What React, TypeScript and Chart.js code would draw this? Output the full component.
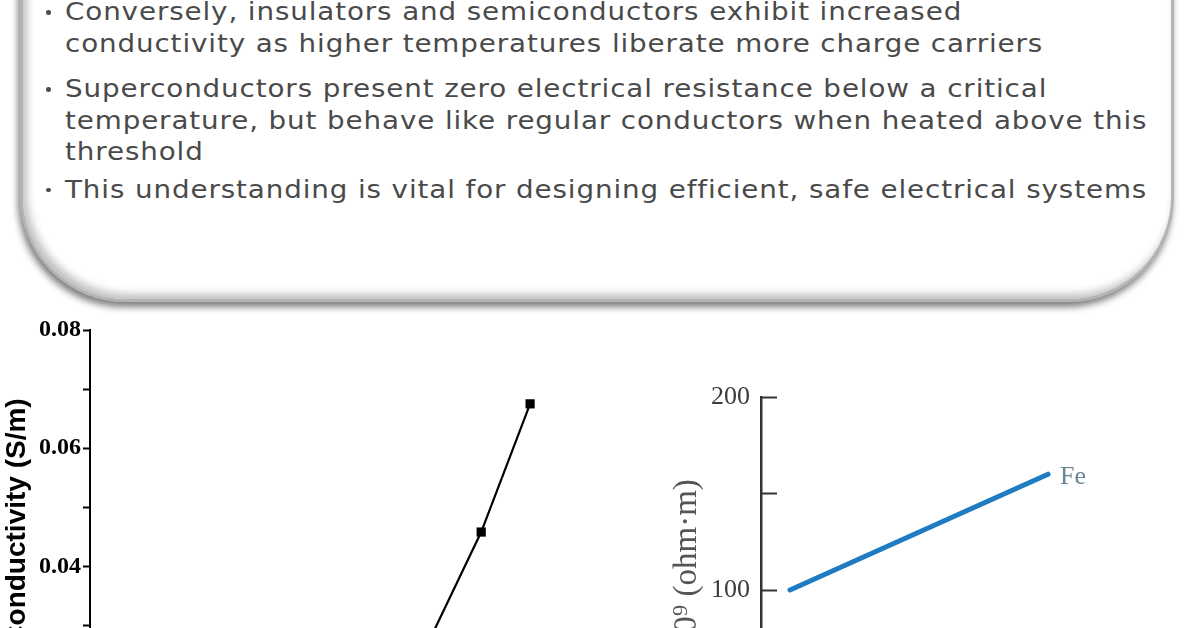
import React, { useEffect, useRef } from "react";
import { Chart, registerables } from "chart.js";

Chart.register(...registerables);

// ---------- text panel ----------
const bulletPoints: string[][] = [
  [
    "Conversely, insulators and semiconductors exhibit increased",
    "conductivity as higher temperatures liberate more charge carriers",
  ],
  [
    "Superconductors present zero electrical resistance below a critical",
    "temperature, but behave like regular conductors when heated above this",
    "threshold",
  ],
  ["This understanding is vital for designing efficient, safe electrical systems"],
];

// ---------- left chart: conductivity vs temperature ----------
const condTemperatures = [350, 360, 370];
const condValues = [0.0285, 0.0458, 0.0675];
const condYTitle = "Conductivity (S/m)";
const condXTitle = "Temperature (K)";

// ---------- right chart: resistivity of Fe ----------
const feTemperatures = [0, 200];
const feResistivity = [100, 160];
const feSeriesName = "Fe";
const feYTitle = "ρ × 10⁹ (ohm·m)";
const feXTitle = "Temperature (°C)";

const TEXT_FONT = '"DejaVu Sans", sans-serif';

function ConductivityChart() {
  const ref = useRef<HTMLCanvasElement | null>(null);
  useEffect(() => {
    if (!ref.current) return;
    const chart = new Chart(ref.current, {
      type: "line",
      data: {
        datasets: [
          {
            data: condTemperatures.map((t, i) => ({ x: t, y: condValues[i] })),
            borderColor: "#000",
            borderWidth: 2.2,
            pointStyle: "rect",
            pointRadius: 6.5,
            pointBackgroundColor: "#000",
            pointBorderWidth: 0,
            tension: 0,
          },
        ],
      },
      options: {
        animation: false,
        responsive: false,
        maintainAspectRatio: false,
        layout: { padding: { top: 30, right: 21, left: 0, bottom: 0 } },
        plugins: { legend: { display: false }, tooltip: { enabled: false } },
        scales: {
          x: {
            type: "linear",
            min: 280,
            max: 380,
            grid: { display: false },
            border: { color: "#000", width: 2 },
            ticks: { font: { family: "Liberation Serif", weight: "bold", size: 16 }, color: "#000" },
            title: { display: true, text: condXTitle, font: { family: "Liberation Sans", weight: "bold", size: 18 }, color: "#000" },
            afterFit: (s: any) => {
              s.height = 60;
            },
          },
          y: {
            min: 0.015,
            max: 0.08,
            ticks: {
              stepSize: 0.01,
              padding: 2,
              color: "#000",
              font: { family: "Liberation Serif", weight: "bold", size: 24 },
              callback: (v: any) => {
                const n = Math.round(v * 100);
                if (Math.abs(v * 100 - n) > 1e-6) return "";
                return n % 2 === 0 ? Number(v).toFixed(2) : "";
              },
            },
            grid: { drawOnChartArea: false, tickLength: 7, tickColor: "#000", tickWidth: 2 },
            border: { color: "#000", width: 2 },
            title: {
              display: true,
              text: condYTitle,
              color: "#000",
              font: { family: "Liberation Sans", weight: "bold", size: 28 },
              padding: { top: 0, bottom: 0 },
            },
            afterFit: (s: any) => {
              s.width = 90;
            },
          },
        },
      },
    } as any);
    return () => chart.destroy();
  }, []);
  return (
    <canvas
      ref={ref}
      width={600}
      height={474}
      style={{ position: "absolute", left: 0, top: 300, width: 600, height: 474 }}
    />
  );
}

const feLabelPlugin = {
  id: "feLabel",
  afterDatasetsDraw(chart: any) {
    const meta = chart.getDatasetMeta(0);
    const last = meta.data[meta.data.length - 1];
    if (!last) return;
    const ctx = chart.ctx;
    ctx.save();
    ctx.font = '26px "Liberation Serif"';
    ctx.fillStyle = "#6c8494";
    ctx.textBaseline = "middle";
    ctx.textAlign = "left";
    ctx.fillText(feSeriesName, last.x + 12, last.y + 3);
    ctx.restore();
  },
};

function ResistivityChart() {
  const ref = useRef<HTMLCanvasElement | null>(null);
  useEffect(() => {
    if (!ref.current) return;
    const chart = new Chart(ref.current, {
      type: "line",
      data: {
        datasets: [
          {
            label: feSeriesName,
            data: feTemperatures.map((t, i) => ({ x: t, y: feResistivity[i] })),
            borderColor: "#1f7cc2",
            borderWidth: 5,
            borderCapStyle: "round",
            pointRadius: 0,
            tension: 0,
          },
        ],
      },
      options: {
        animation: false,
        responsive: false,
        maintainAspectRatio: false,
        layout: { padding: { top: 97, right: 47.5, left: 0, bottom: 0 } },
        plugins: { legend: { display: false }, tooltip: { enabled: false } },
        scales: {
          x: {
            type: "linear",
            min: -22.5,
            max: 250,
            grid: { display: false },
            border: { color: "#333", width: 2.5 },
            ticks: { font: { family: "Liberation Serif", size: 16 }, color: "#3c3c3c" },
            title: { display: true, text: feXTitle, font: { family: "Liberation Serif", size: 18 }, color: "#555" },
            afterFit: (s: any) => {
              s.height = 60;
            },
          },
          y: {
            min: 0,
            max: 200,
            ticks: {
              stepSize: 50,
              padding: 27,
              color: "#3c3c3c",
              font: { family: "Liberation Serif", size: 26 },
              callback: (v: any) => (Number(v) % 100 === 0 ? String(v) : ""),
            },
            grid: { drawOnChartArea: false, tickLength: -16, tickColor: "#333", tickWidth: 2 },
            border: { color: "#333", width: 2.5 },
            title: {
              display: true,
              text: feYTitle,
              color: "#555",
              font: { family: "Liberation Serif", size: 33 },
              padding: { top: 68, bottom: 0 },
            },
            afterFit: (s: any) => {
              s.width = 161;
            },
          },
        },
      },
      plugins: [feLabelPlugin],
    } as any);
    return () => chart.destroy();
  }, []);
  return (
    <canvas
      ref={ref}
      width={560}
      height={543}
      style={{ position: "absolute", left: 600, top: 300, width: 560, height: 543 }}
    />
  );
}

function TextPanel() {
  const LINE_STEP = 31.5;
  const GROUP_GAPS = [0, 14, 6];
  const FIRST_BASELINE = 21;
  const items: { text: string; bullet: boolean; baseline: number }[] = [];
  let b = FIRST_BASELINE;
  bulletPoints.forEach((lines, gi) => {
    b += GROUP_GAPS[gi] || 0;
    lines.forEach((t, li) => {
      items.push({ text: t, bullet: li === 0, baseline: b });
      b += LINE_STEP;
    });
  });
  return (
    <>
      <div
        style={{
          position: "absolute",
          left: 20,
          top: -300,
          width: 1154,
          height: 602,
          boxSizing: "border-box",
          borderRadius: 105,
          background: "#fff",
          border: "3px solid #b4b4b4",
          boxShadow: "-2px 5px 7px rgba(0,0,0,0.5), inset 4px -5px 8px rgba(0,0,0,0.25)",
        }}
      />
      {items.map((it, i) => (
        <React.Fragment key={i}>
          {it.bullet && (
            <div
              style={{
                position: "absolute",
                left: 46,
                top: it.baseline - 11,
                width: 4.5,
                height: 4.5,
                borderRadius: "50%",
                background: "#4d4d4d",
              }}
            />
          )}
          <div
            style={{
              position: "absolute",
              left: 65,
              top: it.baseline - 24,
              whiteSpace: "nowrap",
              fontFamily: TEXT_FONT,
              fontSize: 25,
              letterSpacing: "0.8px",
              lineHeight: "30px",
              color: "#4a4a4a",
              transform: "scaleX(1.11)",
              transformOrigin: "0 0",
            }}
          >
            {it.text}
          </div>
        </React.Fragment>
      ))}
    </>
  );
}

export default function App() {
  return (
    <div
      style={{
        position: "fixed",
        left: 0,
        top: 0,
        width: 1196,
        height: 628,
        overflow: "hidden",
        background: "#fff",
      }}
    >
      <TextPanel />
      <ConductivityChart />
      <ResistivityChart />
    </div>
  );
}
